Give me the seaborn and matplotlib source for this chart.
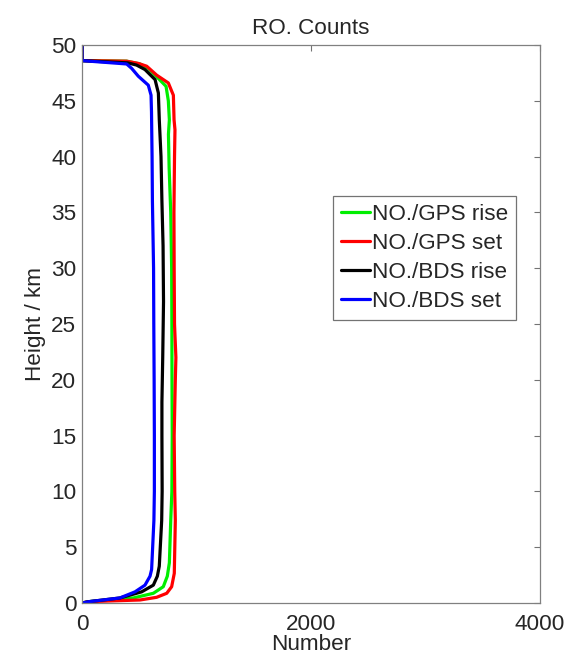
import matplotlib
matplotlib.use("Agg")
import matplotlib.pyplot as plt
import pandas as pd
import seaborn as sns

# ---------------- data ----------------
series_names = ["NO./GPS rise", "NO./GPS set", "NO./BDS rise", "NO./BDS set"]
line_colors = ["#00ee00", "#ff0000", "#000000", "#0000ff"]

gps_rise_height = [0, 0.12, 0.45, 0.87, 1.46, 2.4, 3.6, 7.4, 10, 15, 20, 25, 30, 35,
                   39, 42, 43.3, 45.0, 46.3, 47.0, 47.9, 48.3, 48.55, 48.6, 50]
gps_rise_count = [0, 60, 448, 623, 710, 745, 763, 775, 785, 788, 786, 785, 783, 775,
                  761, 755, 763, 754, 734, 667, 579, 507, 390, 0, 0]

gps_set_height = [0, 0.12, 0.27, 0.51, 0.87, 1.46, 2.66, 7.4, 10, 15, 20, 22, 25, 30,
                  35, 40, 42.4, 43.3, 45.5, 46.6, 47.3, 48.1, 48.35, 48.55, 48.6, 50]
gps_set_count = [0, 60, 507, 652, 740, 783, 806, 815, 810, 805, 815, 820, 808, 805,
                 803, 808, 812, 804, 798, 754, 652, 565, 492, 390, 0, 0]

bds_rise_height = [0, 0.12, 0.45, 1.0, 1.6, 2.4, 3.3, 7.4, 10, 15, 18, 22, 27, 32,
                   36, 40, 43.3, 45.7, 46.9, 47.8, 48.2, 48.4, 48.6, 50]
bds_rise_count = [0, 60, 330, 521, 623, 658, 675, 696, 700, 698, 698, 705, 712, 708,
                  698, 690, 675, 667, 638, 550, 477, 400, 0, 0]

bds_set_height = [0, 0.12, 0.45, 1.0, 1.6, 2.4, 3.0, 7.4, 10, 15, 20, 25, 30, 36,
                  40, 44, 45.5, 46.4, 47.2, 47.9, 48.3, 48.6, 50]
bds_set_count = [0, 60, 330, 463, 550, 594, 608, 628, 632, 632, 630, 627, 625, 615,
                 612, 607, 603, 579, 492, 434, 390, 0, 0]

x_ticks = [0, 2000, 4000]
y_ticks = [0, 5, 10, 15, 20, 25, 30, 35, 40, 45, 50]

# ---------------- build long table ----------------
frames = []
for name, h, n in zip(series_names,
                      [gps_rise_height, gps_set_height, bds_rise_height, bds_set_height],
                      [gps_rise_count, gps_set_count, bds_rise_count, bds_set_count]):
    frames.append(pd.DataFrame({"Number": n, "Height": h, "series": name}))
df = pd.concat(frames, ignore_index=True)

# ---------------- style ----------------
sns.set_style("white")
plt.rcParams["font.family"] = ["Liberation Sans", "DejaVu Sans"]
FS = 16.2
LW = 2.3

fig = plt.figure(figsize=(5.82, 6.55), dpi=100)
ax = fig.add_axes([82 / 582, 1 - 603 / 655, 458 / 582, 558 / 655])

sns.lineplot(data=df, x="Number", y="Height", hue="series",
             hue_order=series_names, palette=line_colors,
             sort=False, estimator=None, linewidth=LW, ax=ax)

ax.set_xlim(0, 4000)
ax.set_ylim(0, 50)
ax.set_xticks(x_ticks)
ax.set_yticks(y_ticks)
ax.tick_params(direction="in", top=True, right=True, length=4.5, width=0.8,
               color="0.45", labelsize=FS)
ax.tick_params(axis="x", pad=8)
ax.tick_params(axis="y", pad=4)
for sp in ax.spines.values():
    sp.set_visible(True)
    sp.set_color("0.5")
    sp.set_linewidth(0.9)

ax.set_xlabel("Number", fontsize=FS, labelpad=-1)
ax.set_ylabel("Height / km", fontsize=FS, labelpad=4)
ax.set_title("RO. Counts", fontsize=FS, pad=8)

leg = ax.legend(loc="upper left", bbox_to_anchor=(0.548, 0.73),
                fontsize=FS, frameon=True, fancybox=False, framealpha=1,
                edgecolor="0.45", handlelength=1.3, handletextpad=0.1,
                borderpad=0.35, labelspacing=0.36, borderaxespad=0)
leg.get_frame().set_linewidth(0.9)
for line in leg.get_lines():
    line.set_linewidth(LW)

fig.savefig("out.png", dpi=100)
